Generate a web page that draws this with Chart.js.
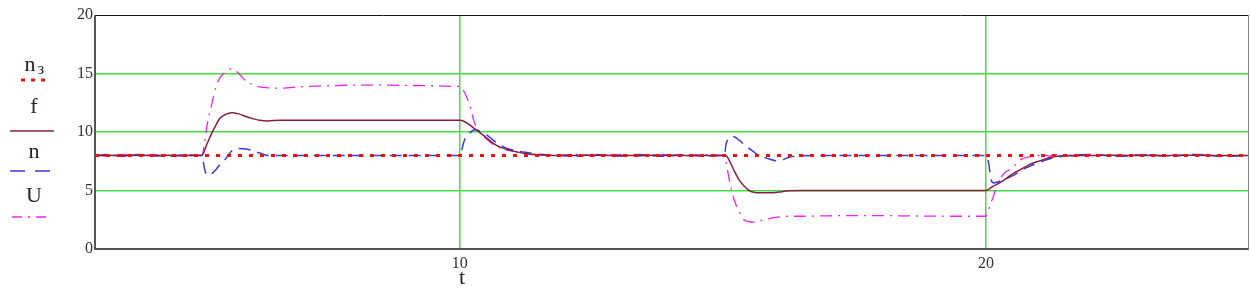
<!DOCTYPE html>
<html>
<head>
<meta charset="utf-8">
<script src="https://cdn.jsdelivr.net/npm/chart.js@4/dist/chart.umd.min.js"></script>
<style>
  body { margin: 0; background: #fff; }
  #wrap { position: relative; width: 1250px; height: 289px; }
</style>
</head>
<body>
<div id="wrap"><canvas id="plot" width="1250" height="289"></canvas></div>
<script>
// time axis (shared by all series)
const t = [
  3.07, 3.3, 3.6, 3.9, 4.2, 4.5, 4.8, 5.05,
  5.1, 5.15, 5.2, 5.29, 5.37, 5.44, 5.55, 5.67, 5.8, 5.95, 6.1, 6.2, 6.35, 6.58,
  7.0, 7.5, 8.0, 8.5, 9.0, 9.5, 9.95,
  10.0, 10.09, 10.19, 10.28, 10.34, 10.51, 10.7, 10.9, 11.08, 11.27, 11.5, 11.8,
  12.2, 12.6, 13.0, 13.4, 13.8, 14.2, 14.6, 15.03,
  15.06, 15.12, 15.21, 15.31, 15.4, 15.5, 15.59, 15.69, 15.88, 16.01, 16.12, 16.26, 16.5,
  16.8, 17.3, 18.0, 18.7, 19.4, 19.95,
  20.0, 20.05, 20.1, 20.15, 20.2, 20.3, 20.38, 20.5, 20.58, 20.68, 20.8, 20.9, 21.0,
  21.1, 21.2, 21.35, 21.6, 22.0, 22.5, 23.0, 23.5, 24.0, 24.5, 25.0
];

const nRef = [8, 8];
const nRefT = [3.07, 25];

const f = [
  8.0, 8.02, 7.98, 8.02, 7.98, 8.01, 7.99, 8.0,
  8.0, 8.4, 9.0, 9.9, 10.6, 11.15, 11.5, 11.65, 11.55, 11.3, 11.1, 11.0, 10.95, 11.0,
  11.0, 11.0, 11.0, 11.0, 11.0, 11.0, 11.0,
  11.0, 10.9, 10.6, 10.3, 10.1, 9.5, 8.85, 8.5, 8.3, 8.15, 8.05, 8.0,
  8.0, 8.01, 7.99, 8.0, 8.01, 7.99, 8.0, 8.0,
  8.0, 7.6, 6.75, 5.9, 5.4, 5.0, 4.85, 4.8, 4.8, 4.82, 4.9, 4.97, 5.0,
  5.0, 5.0, 5.0, 5.0, 5.0, 5.0,
  5.0, 5.1, 5.25, 5.4, 5.5, 5.75, 6.0, 6.4, 6.6, 6.85, 7.15, 7.35, 7.5,
  7.65, 7.8, 7.92, 8.0, 8.0, 8.01, 7.99, 8.0, 8.01, 7.99, 8.0
];

const n = [
  7.94, 8.08, 7.93, 8.07, 8.0, 7.92, 8.08, 8.0,
  8.0, 6.9, 6.3, 6.45, 6.8, 7.2, 7.7, 8.4, 8.6, 8.55, 8.35, 8.2, 8.0, 8.0,
  8.0, 8.0, 8.0, 8.0, 8.0, 8.0, 8.0,
  8.0, 9.3, 9.9, 10.2, 10.15, 9.75, 9.1, 8.6, 8.4, 8.25, 8.1, 8.02,
  7.93, 8.08, 7.94, 8.07, 7.92, 8.06, 7.95, 8.0,
  8.9, 9.5, 9.6, 9.3, 8.95, 8.6, 8.3, 8.0, 7.7, 7.55, 7.6, 7.85, 7.97,
  8.0, 8.0, 8.0, 8.0, 8.0, 8.0,
  8.0, 7.4, 5.9, 5.65, 5.7, 5.85, 6.0, 6.25, 6.45, 6.75, 7.0, 7.2, 7.4,
  7.55, 7.7, 7.85, 8.0, 8.07, 7.93, 8.06, 7.94, 8.08, 7.92, 8.0
];

const U = [
  8.06, 7.93, 8.08, 7.95, 8.07, 8.04, 7.94, 8.0,
  8.0, 9.0, 10.6, 12.4, 13.9, 14.6, 15.15, 15.4, 15.0, 14.3, 14.0, 13.85, 13.78, 13.75,
  13.88, 13.95, 14.0, 14.0, 13.98, 13.95, 13.9,
  13.9, 13.4, 12.3, 10.8, 10.2, 9.4, 8.75, 8.45, 8.3, 8.15, 8.05, 8.0,
  8.08, 7.93, 8.07, 7.94, 8.08, 7.93, 8.06, 8.0,
  7.5, 6.0, 4.3, 3.2, 2.5, 2.35, 2.3, 2.4, 2.6, 2.7, 2.75, 2.8, 2.8,
  2.82, 2.85, 2.85, 2.82, 2.8, 2.8,
  2.8, 3.3, 4.0, 4.6, 5.4, 6.2, 6.6, 6.9, 7.3, 7.7, 7.85, 7.95, 8.0,
  8.07, 7.94, 8.06, 7.93, 8.08, 7.94, 8.07, 7.93, 8.08, 7.94, 8.0
];

const yTicks = [0, 5, 10, 15, 20];
const xTicks = [10, 20];

const pts = (xs, ys) => xs.map((x, i) => ({ x: x, y: ys[i] }));

const legendItems = [
  { label: "n", sub: "з", color: "#ee1111", dash: [4, 6], width: 3, y: 65, ly: 80, x0: 21, x1: 48 },
  { label: "f", color: "#8a2040", dash: [], width: 1.5, y: 107, ly: 131, x0: 10, x1: 54 },
  { label: "n", color: "#3a3ae0", dash: [15, 10], width: 1.5, y: 152, ly: 171, x0: 10, x1: 51 },
  { label: "U", color: "#ee22ee", dash: [10, 6, 2, 6], width: 1.5, y: 196, ly: 217, x0: 12, x1: 48 },
];

const extras = {
  id: "extras",
  afterDatasetsDraw(chart) {
    const { ctx, chartArea: a } = chart;
    ctx.save();
    // frame
    ctx.strokeStyle = "#111";
    ctx.lineWidth = 1;
    ctx.beginPath();
    ctx.moveTo(a.left, a.top + 0.5);
    ctx.lineTo(a.right, a.top + 0.5);
    ctx.stroke();
    ctx.strokeStyle = "#555";
    ctx.lineWidth = 2;
    ctx.beginPath();
    ctx.moveTo(a.left, a.top);
    ctx.lineTo(a.left, a.bottom);
    ctx.lineTo(a.right, a.bottom);
    ctx.stroke();
    ctx.strokeStyle = "#888";
    ctx.lineWidth = 1;
    ctx.beginPath();
    ctx.moveTo(a.right - 0.5, a.top);
    ctx.lineTo(a.right - 0.5, a.bottom);
    ctx.stroke();
    ctx.restore();
  },
  afterDraw(chart) {
    const ctx = chart.ctx;
    ctx.save();
    ctx.textAlign = "center";
    ctx.textBaseline = "middle";
    ctx.fillStyle = "#2a2020";
    legendItems.forEach((it) => {
      ctx.font = "22px 'Liberation Serif', 'DejaVu Serif', serif";
      const cx = it.sub ? 30 : 34;
      ctx.fillText(it.label, cx, it.y);
      if (it.sub) {
        ctx.font = "16px 'Liberation Serif', serif";
        ctx.fillText(it.sub, 41, it.y + 5);
      }
      ctx.strokeStyle = it.color;
      ctx.lineWidth = it.width;
      ctx.setLineDash(it.dash);
      ctx.beginPath();
      ctx.moveTo(it.x0, it.ly);
      ctx.lineTo(it.x1, it.ly);
      ctx.stroke();
    });
    ctx.setLineDash([]);
    ctx.font = "22px 'Liberation Serif', serif";
    ctx.fillStyle = "#222";
    ctx.fillText("t", 462, 278);
    ctx.restore();
  },
};

new Chart(document.getElementById("plot"), {
  type: "line",
  data: {
    datasets: [
      {
        label: "nз",
        data: pts(nRefT, nRef),
        borderColor: "#ee1111",
        borderWidth: 3,
        borderDash: [4, 7],
      },
      {
        label: "f",
        data: pts(t, f),
        borderColor: "#8a2040",
        borderWidth: 1.5,
      },
      {
        label: "n",
        data: pts(t, n),
        borderColor: "#3a3ae0",
        borderWidth: 1.5,
        borderDash: [12, 7],
      },
      {
        label: "U",
        data: pts(t, U),
        borderColor: "#ee22ee",
        borderWidth: 1.3,
        borderDash: [12, 6, 2, 6],
      },
    ],
  },
  options: {
    responsive: false,
    animation: false,
    layout: { padding: { left: 0, top: 15, right: 1, bottom: 0 } },
    elements: {
      point: { radius: 0 },
      line: { cubicInterpolationMode: "monotone", fill: false },
    },
    plugins: { legend: { display: false }, tooltip: { enabled: false } },
    scales: {
      x: {
        type: "linear",
        min: 3.07,
        max: 25,
        afterBuildTicks: (s) => { s.ticks = xTicks.map((v) => ({ value: v })); },
        afterFit: (s) => { s.height = 40; },
        border: { display: false },
        grid: { color: "#44dd44", lineWidth: 1.5, drawTicks: false },
        ticks: {
          padding: 5,
          color: "#333",
          font: { family: "'Liberation Serif', serif", size: 16 },
        },
      },
      y: {
        min: 0,
        max: 20,
        afterBuildTicks: (s) => { s.ticks = yTicks.map((v) => ({ value: v })); },
        afterFit: (s) => { s.width = 95; },
        border: { display: false },
        grid: {
          color: (c) => (c.tick && (c.tick.value === 0 || c.tick.value === 20) ? "rgba(0,0,0,0)" : "#44dd44"),
          lineWidth: 1.5,
          drawTicks: false,
        },
        ticks: {
          padding: 2,
          color: "#333",
          font: { family: "'Liberation Serif', serif", size: 16 },
        },
      },
    },
  },
  plugins: [extras],
});
</script>
</body>
</html>
